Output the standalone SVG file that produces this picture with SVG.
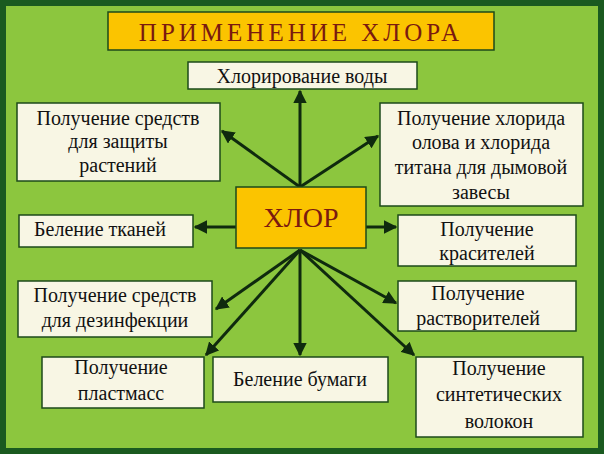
<svg xmlns="http://www.w3.org/2000/svg" width="604" height="454" viewBox="0 0 604 454">
<defs>
<style>
.b{fill:#f8f6e4;stroke:#1d4a1a;stroke-width:1.5}
.t{font-family:"Liberation Serif",serif;font-size:20px;fill:#111;text-anchor:middle}
.c line{stroke:#0f2a0e;stroke-width:3;marker-end:url(#a)}
</style>
<marker id="a" viewBox="0 0 10 10" refX="9" refY="5" markerWidth="4.5" markerHeight="4.5" orient="auto" markerUnits="strokeWidth"><path d="M0,0L10,5L0,10z" fill="#0f2a0e"/></marker>
</defs>
<rect x="0" y="0" width="604" height="454" fill="#1a5a20"/>
<rect x="6" y="6" width="592" height="442" fill="#8cc63e"/>
<g id="title"><rect x="108" y="12" width="386" height="38" fill="#fbc400" stroke="#1d4a1a" stroke-width="1.5"/>
<text x="301" y="41" font-family="Liberation Serif,serif" font-size="25" fill="#7a1a10" text-anchor="middle" letter-spacing="4">ПРИМЕНЕНИЕ ХЛОРА</text></g>
<g class="c">
<line x1="300" y1="187" x2="300" y2="91"/>
<line x1="300" y1="187" x2="222" y2="131"/>
<line x1="300" y1="187" x2="378" y2="136"/>
<line x1="236" y1="227" x2="195" y2="227"/>
<line x1="366" y1="227" x2="396" y2="227"/>
<line x1="300" y1="250" x2="216" y2="309"/>
<line x1="300" y1="250" x2="206" y2="355"/>
<line x1="300" y1="250" x2="300" y2="355"/>
<line x1="300" y1="250" x2="396" y2="303"/>
<line x1="300" y1="250" x2="414" y2="355"/>
</g>
<g id="center"><rect x="236" y="187" width="130" height="61" fill="#fbc400" stroke="#1d4a1a" stroke-width="1.5"/>
<text x="301" y="227" font-family="Liberation Serif,serif" font-size="28" fill="#7a1a10" text-anchor="middle">ХЛОР</text></g>
<g id="n1"><rect class="b" x="188" y="62" width="229" height="27"/><text class="t" x="302" y="83">Хлорирование воды</text></g>
<g id="n2"><rect class="b" x="17" y="103" width="203" height="78"/><text class="t" x="118" y="125">Получение средств</text><text class="t" x="118" y="148">для защиты</text><text class="t" x="118" y="172">растений</text></g>
<g id="n3"><rect class="b" x="380" y="103" width="203" height="103"/><text class="t" x="481" y="125">Получение хлорида</text><text class="t" x="481" y="149">олова и хлорида</text><text class="t" x="481" y="174">титана для дымовой</text><text class="t" x="481" y="199">завесы</text></g>
<g id="n4"><rect class="b" x="19" y="215" width="174" height="32"/><text class="t" x="100" y="236">Беление тканей</text></g>
<g id="n5"><rect class="b" x="398" y="215" width="178" height="51"/><text class="t" x="487" y="236">Получение</text><text class="t" x="487" y="260">красителей</text></g>
<g id="n6"><rect class="b" x="18" y="281" width="194" height="56"/><text class="t" x="115" y="302">Получение средств</text><text class="t" x="115" y="327">для дезинфекции</text></g>
<g id="n7"><rect class="b" x="398" y="281" width="178" height="50"/><text class="t" x="478" y="300">Получение</text><text class="t" x="478" y="325">растворителей</text></g>
<g id="n8"><rect class="b" x="42" y="357" width="162" height="51"/><text class="t" x="121" y="374">Получение</text><text class="t" x="121" y="400">пластмасс</text></g>
<g id="n9"><rect class="b" x="213" y="357" width="175" height="45"/><text class="t" x="300" y="386">Беление бумаги</text></g>
<g id="n10"><rect class="b" x="416" y="357" width="167" height="80"/><text class="t" x="499" y="375">Получение</text><text class="t" x="499" y="401">синтетических</text><text class="t" x="499" y="428">волокон</text></g>
</svg>
